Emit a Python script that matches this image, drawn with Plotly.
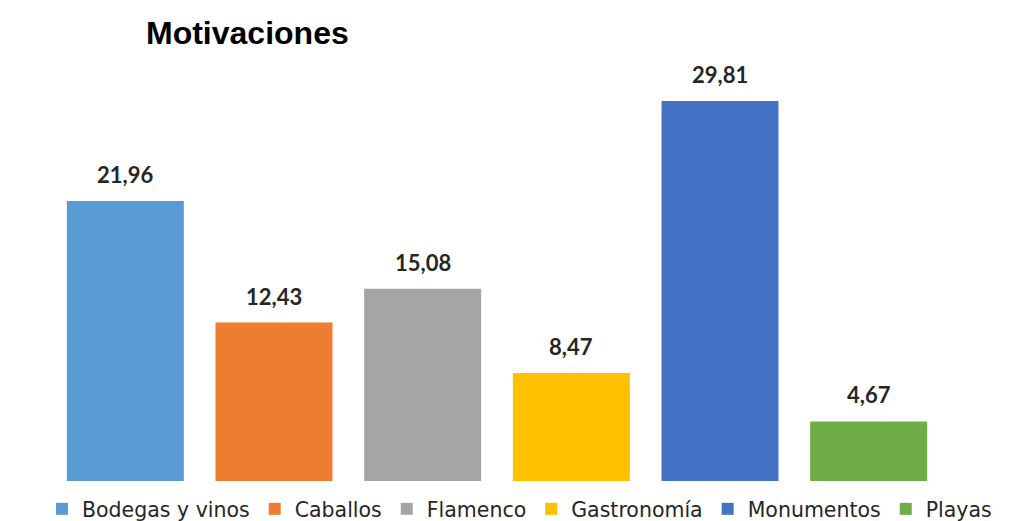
import plotly.graph_objects as go

categories = ["Bodegas y vinos", "Caballos", "Flamenco", "Gastronomía", "Monumentos", "Playas"]
values = [21.96, 12.43, 15.08, 8.47, 29.81, 4.67]
colors = ["#5B9BD5", "#ED7D31", "#A5A5A5", "#FFC000", "#4472C4", "#70AD47"]
labels = ["21,96", "12,43", "15,08", "8,47", "29,81", "4,67"]

fig = go.Figure()
for cat, val, col in zip(categories, values, colors):
    fig.add_trace(go.Bar(x=[cat], y=[val], name=cat, marker=dict(color=col, line=dict(width=0)),
                         width=0.787, hoverinfo="skip"))

for cat, val, lab in zip(categories, values, labels):
    fig.add_annotation(x=cat, y=val, text=lab, showarrow=False, yanchor="bottom", yshift=11,
                       font=dict(family="Lato, Open Sans, sans-serif", size=22, color="#262626", weight="bold"))

fig.update_layout(
    width=1024, height=521,
    barmode="overlay",
    plot_bgcolor="white", paper_bgcolor="white",
    margin=dict(l=51, r=81, t=73, b=40, autoexpand=False),
    title=dict(text="<b>Motivaciones</b>", xref="container", x=146/1024, xanchor="left",
               yref="container", y=1 - 22/521, yanchor="top",
               font=dict(family="Liberation Sans, Arial, sans-serif", size=32, color="#000000")),
    xaxis=dict(showticklabels=False, showgrid=False, zeroline=False, showline=False, ticks=""),
    yaxis=dict(range=[0, 32], showticklabels=False, showgrid=False, zeroline=False, showline=False),
    showlegend=True,
    legend=dict(orientation="h", xref="paper", x=(997 - 51) / 892, xanchor="right",
                yref="paper", y=-8 / 408, yanchor="top",
                font=dict(family="DejaVu Sans, sans-serif", size=20.5, color="#262626"),
                itemwidth=30, traceorder="normal"),
)

fig.write_html("out.html", config={"displayModeBar": False},
               post_script="document.body.style.margin='0';document.body.style.overflow='hidden';")
